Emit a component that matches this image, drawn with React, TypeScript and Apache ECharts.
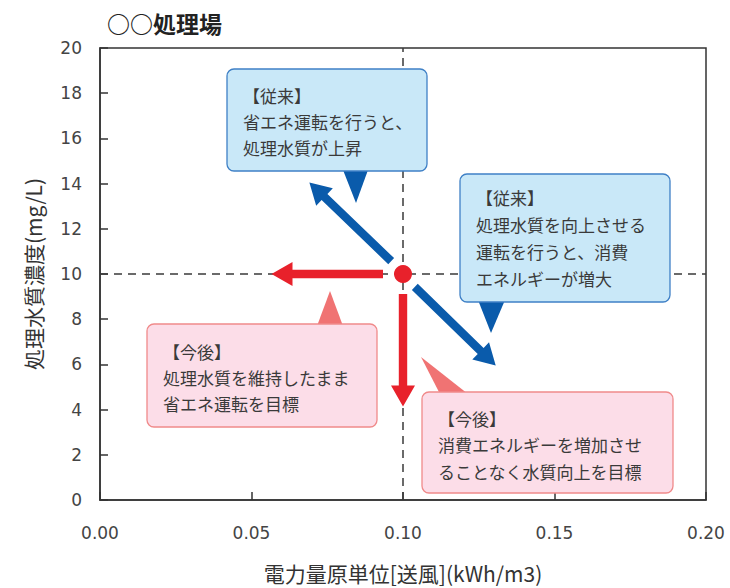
import React, { useEffect, useRef } from "react";
import * as echarts from "echarts";

const xTicks = [0, 0.05, 0.1, 0.15, 0.2];
const yRange = [0, 20];
const refPoint = [0.1, 10];
// arrows: [x1, y1, x2, y2]
const blueArrows = [
  [0.0961, 10.57, 0.0691, 14.05],
  [0.1039, 9.43, 0.1306, 5.95],
];
const redArrows = [
  [0.0934, 10, 0.0566, 10],
  [0.1, 9.12, 0.1, 4.14],
];
const titleText = "○○処理場";
const xName = "電力量原単位[送風](kWh/m3)";
const yName = "処理水質濃度(mg/L)";
const noteBlueTop = ["【従来】", "省エネ運転を行うと、", "処理水質が上昇"];
const noteBlueRight = ["【従来】", "処理水質を向上させる", "運転を行うと、消費", "エネルギーが増大"];
const notePinkLeft = ["【今後】", "処理水質を維持したまま", "省エネ運転を目標"];
const notePinkRight = ["【今後】", "消費エネルギーを増加させ", "ることなく水質向上を目標"];

const JP = '"Noto Sans CJK JP", "Noto Sans", sans-serif';
const NUM = '"DejaVu Sans", sans-serif';

const BLUE_FILL = "#c9e8f8";
const BLUE_STROKE = "#3f80c6";
const BLUE_DARK = "#0a5bab";
const PINK_FILL = "#fcdde8";
const PINK_STROKE = "#f08a8a";
const PINK_DARK = "#f07373";
const RED = "#e8212b";

function arrowRender(color: string) {
  return (params: any, api: any) => {
    const p1 = api.coord([api.value(0), api.value(1)]);
    const p2 = api.coord([api.value(2), api.value(3)]);
    const dx = p2[0] - p1[0];
    const dy = p2[1] - p1[1];
    const len = Math.sqrt(dx * dx + dy * dy);
    const ux = dx / len;
    const uy = dy / len;
    const nx = -uy;
    const ny = ux;
    const w = 4.2;
    const hw = 12;
    const hl = 21;
    const bx = p2[0] - ux * hl;
    const by = p2[1] - uy * hl;
    const pts = [
      [p1[0] + nx * w, p1[1] + ny * w],
      [bx + nx * w, by + ny * w],
      [bx + nx * hw, by + ny * hw],
      [p2[0], p2[1]],
      [bx - nx * hw, by - ny * hw],
      [bx - nx * w, by - ny * w],
      [p1[0] - nx * w, p1[1] - ny * w],
    ];
    return { type: "polygon", shape: { points: pts }, style: { fill: color } };
  };
}

function bubble(
  box: [number, number, number, number],
  tri: number[][],
  lines: string[],
  textX: number,
  textTop: number,
  lineH: number,
  fill: string,
  stroke: string,
  triColor: string
) {
  return [
    {
      type: "polygon",
      z: 100,
      shape: { points: tri },
      style: { fill: triColor },
    },
    {
      type: "rect",
      z: 101,
      shape: { x: box[0], y: box[1], width: box[2], height: box[3], r: 7 },
      style: { fill, stroke, lineWidth: 1.3 },
    },
    {
      type: "text",
      z: 102,
      x: textX,
      y: textTop,
      style: {
        text: lines.join("\n"),
        font: `17px ${JP}`,
        fill: "#3a3a3a",
        lineHeight: lineH,
        verticalAlign: "top",
        align: "left",
      },
    },
  ];
}

export default function App() {
  const ref = useRef<HTMLDivElement>(null);
  useEffect(() => {
    if (!ref.current) return;
    const chart = echarts.init(ref.current, null, { renderer: "svg" });
    const axisColor = "#333";
    chart.setOption({
      animation: false,
      backgroundColor: "#fff",
      grid: {
        left: 100,
        right: 24,
        top: 48,
        bottom: 87,
        show: true,
        borderColor: axisColor,
        borderWidth: 1.5,
        backgroundColor: "transparent",
      },
      xAxis: {
        type: "value",
        min: xTicks[0],
        max: xTicks[xTicks.length - 1],
        interval: 0.05,
        name: xName,
        nameLocation: "middle",
        nameGap: 62,
        nameTextStyle: { fontFamily: JP, fontSize: 21, color: "#333" },
        axisLine: { show: true, lineStyle: { color: axisColor, width: 1.5 } },
        axisTick: { show: true, inside: true, length: 8, lineStyle: { color: axisColor, width: 1.5 } },
        axisLabel: {
          margin: 24,
          fontFamily: NUM,
          fontSize: 17,
          color: "#444",
          formatter: (v: number) => v.toFixed(2),
        },
        splitLine: { show: false },
      },
      yAxis: {
        type: "value",
        min: yRange[0],
        max: yRange[1],
        interval: 2,
        name: yName,
        nameLocation: "middle",
        nameGap: 57,
        nameTextStyle: { fontFamily: JP, fontSize: 21, color: "#333" },
        axisLine: { show: true, lineStyle: { color: axisColor, width: 1.5 } },
        axisTick: { show: true, inside: true, length: 8, lineStyle: { color: axisColor, width: 1.5 } },
        axisLabel: { margin: 18, fontFamily: NUM, fontSize: 17, color: "#444" },
        splitLine: { show: false },
      },
      series: [
        {
          type: "line",
          data: [],
          z: 1,
          markLine: {
            silent: true,
            z: 1,
            symbol: "none",
            label: { show: false },
            lineStyle: { color: "#3a3a3a", width: 1.5, type: [8, 6] },
            data: [{ xAxis: refPoint[0] }, { yAxis: refPoint[1] }],
          },
        },
        {
          type: "custom",
          renderItem: arrowRender(BLUE_DARK),
          data: blueArrows,
          encode: { x: [0, 2], y: [1, 3] },
          z: 6,
        },
        {
          type: "custom",
          renderItem: arrowRender(RED),
          data: redArrows,
          encode: { x: [0, 2], y: [1, 3] },
          z: 6,
        },
        {
          type: "scatter",
          data: [refPoint],
          symbolSize: 18,
          itemStyle: { color: RED, opacity: 1 },
          z: 10,
        },
      ],
      graphic: [
        {
          type: "text",
          x: 107,
          y: 23,
          style: {
            text: titleText,
            font: `bold 23px ${JP}`,
            fill: "#222",
            verticalAlign: "middle",
          },
        },
        ...bubble(
          [227, 69, 200, 102],
          [[343, 170], [368, 170], [356, 203]],
          noteBlueTop,
          243,
          82,
          26,
          BLUE_FILL,
          BLUE_STROKE,
          BLUE_DARK
        ),
        ...bubble(
          [460, 174, 210, 128],
          [[478, 300], [505, 300], [491, 333]],
          noteBlueRight,
          476,
          184,
          27,
          BLUE_FILL,
          BLUE_STROKE,
          BLUE_DARK
        ),
        ...bubble(
          [147, 324, 230, 103],
          [[317, 326], [343, 326], [330, 291]],
          notePinkLeft,
          163,
          338,
          26,
          PINK_FILL,
          PINK_STROKE,
          PINK_DARK
        ),
        ...bubble(
          [422, 392, 251, 101],
          [[421, 357], [440, 394], [468, 394]],
          notePinkRight,
          438,
          405,
          26.5,
          PINK_FILL,
          PINK_STROKE,
          PINK_DARK
        ),
      ],
    });
    return () => chart.dispose();
  }, []);
  return (
    <div
      ref={ref}
      style={{ position: "fixed", left: 0, top: 0, width: 730, height: 588, background: "#fff" }}
    />
  );
}
